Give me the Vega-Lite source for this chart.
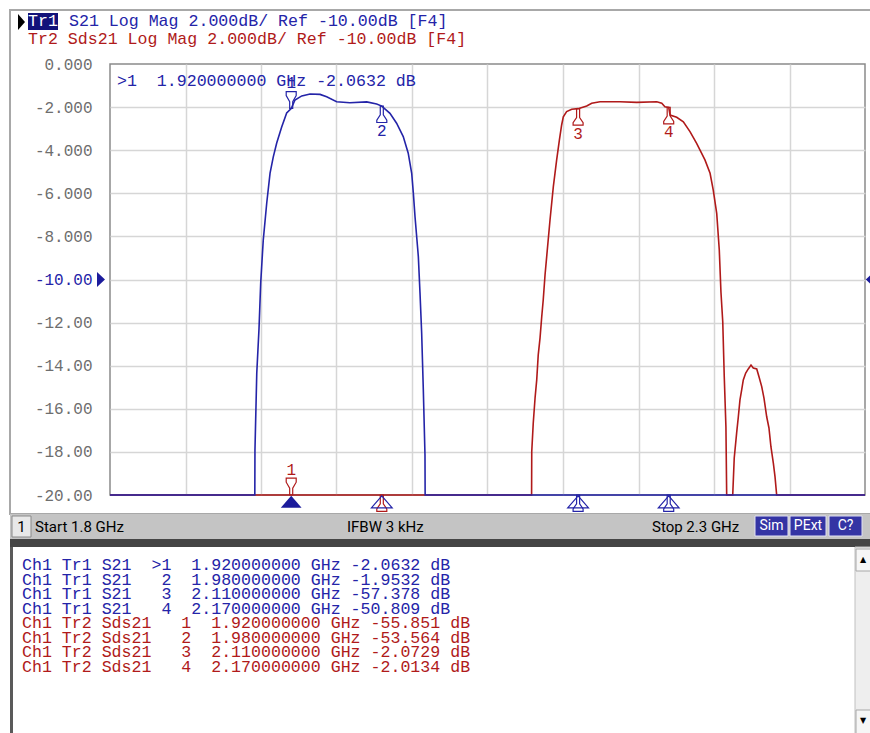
{
  "$schema": "https://vega.github.io/schema/vega-lite/v6.json",
  "width": 755,
  "height": 431,
  "autosize": {"type": "none"},
  "padding": {"left": 110, "top": 64, "right": 5, "bottom": 238},
  "background": "#ffffff",
  "config": {"view": {"stroke": "#8a8a8a", "strokeWidth": 1.5}},
  "datasets": {
    "traces": [
      {"trace": "Tr1", "f": 1.8, "db": -20}, {"trace": "Tr1", "f": 1.8959, "db": -20}, {"trace": "Tr1", "f": 1.896, "db": -17.91},
      {"trace": "Tr1", "f": 1.8972, "db": -14.34}, {"trace": "Tr1", "f": 1.8987, "db": -12.25}, {"trace": "Tr1", "f": 1.8998, "db": -10.16},
      {"trace": "Tr1", "f": 1.9011, "db": -8.63}, {"trace": "Tr1", "f": 1.9015, "db": -8.17}, {"trace": "Tr1", "f": 1.9038, "db": -6.45},
      {"trace": "Tr1", "f": 1.906, "db": -5.06}, {"trace": "Tr1", "f": 1.9081, "db": -4.32}, {"trace": "Tr1", "f": 1.9104, "db": -3.67},
      {"trace": "Tr1", "f": 1.9137, "db": -2.92}, {"trace": "Tr1", "f": 1.917, "db": -2.27}, {"trace": "Tr1", "f": 1.92, "db": -2.0632},
      {"trace": "Tr1", "f": 1.9225, "db": -1.67}, {"trace": "Tr1", "f": 1.927, "db": -1.48}, {"trace": "Tr1", "f": 1.9325, "db": -1.39},
      {"trace": "Tr1", "f": 1.9391, "db": -1.41}, {"trace": "Tr1", "f": 1.9435, "db": -1.52}, {"trace": "Tr1", "f": 1.9501, "db": -1.75},
      {"trace": "Tr1", "f": 1.9589, "db": -1.8}, {"trace": "Tr1", "f": 1.97, "db": -1.76}, {"trace": "Tr1", "f": 1.9766, "db": -1.86},
      {"trace": "Tr1", "f": 1.98, "db": -1.9532}, {"trace": "Tr1", "f": 1.9854, "db": -2.29}, {"trace": "Tr1", "f": 1.9898, "db": -2.75},
      {"trace": "Tr1", "f": 1.9942, "db": -3.37}, {"trace": "Tr1", "f": 1.9975, "db": -4.14}, {"trace": "Tr1", "f": 1.9998, "db": -5.07},
      {"trace": "Tr1", "f": 2.0009, "db": -6.0}, {"trace": "Tr1", "f": 2.002, "db": -7.09}, {"trace": "Tr1", "f": 2.0042, "db": -8.94},
      {"trace": "Tr1", "f": 2.0053, "db": -10.63}, {"trace": "Tr1", "f": 2.0064, "db": -12.48}, {"trace": "Tr1", "f": 2.0075, "db": -15.13},
      {"trace": "Tr1", "f": 2.0086, "db": -18.14}, {"trace": "Tr1", "f": 2.0087, "db": -20}, {"trace": "Tr1", "f": 2.11, "db": -57.378},
      {"trace": "Tr1", "f": 2.17, "db": -50.809}, {"trace": "Tr1", "f": 2.3, "db": -20},
      {"trace": "Tr2", "f": 1.8, "db": -20}, {"trace": "Tr2", "f": 1.92, "db": -55.851}, {"trace": "Tr2", "f": 1.98, "db": -53.564},
      {"trace": "Tr2", "f": 2.0792, "db": -20}, {"trace": "Tr2", "f": 2.0793, "db": -17.99}, {"trace": "Tr2", "f": 2.0803, "db": -16.66},
      {"trace": "Tr2", "f": 2.0815, "db": -15.5}, {"trace": "Tr2", "f": 2.0826, "db": -14.66}, {"trace": "Tr2", "f": 2.0836, "db": -13.5},
      {"trace": "Tr2", "f": 2.0848, "db": -12.71}, {"trace": "Tr2", "f": 2.0859, "db": -11.74}, {"trace": "Tr2", "f": 2.0869, "db": -10.95},
      {"trace": "Tr2", "f": 2.0881, "db": -9.79}, {"trace": "Tr2", "f": 2.0892, "db": -8.94}, {"trace": "Tr2", "f": 2.0914, "db": -7.24},
      {"trace": "Tr2", "f": 2.0936, "db": -5.69}, {"trace": "Tr2", "f": 2.0958, "db": -4.45}, {"trace": "Tr2", "f": 2.0976, "db": -3.53},
      {"trace": "Tr2", "f": 2.0991, "db": -2.83}, {"trace": "Tr2", "f": 2.1002, "db": -2.45}, {"trace": "Tr2", "f": 2.1024, "db": -2.21},
      {"trace": "Tr2", "f": 2.1058, "db": -2.1}, {"trace": "Tr2", "f": 2.11, "db": -2.0729}, {"trace": "Tr2", "f": 2.1157, "db": -1.95},
      {"trace": "Tr2", "f": 2.119, "db": -1.82}, {"trace": "Tr2", "f": 2.1245, "db": -1.75}, {"trace": "Tr2", "f": 2.1377, "db": -1.75},
      {"trace": "Tr2", "f": 2.1488, "db": -1.78}, {"trace": "Tr2", "f": 2.1621, "db": -1.75}, {"trace": "Tr2", "f": 2.1654, "db": -1.82},
      {"trace": "Tr2", "f": 2.1675, "db": -1.98}, {"trace": "Tr2", "f": 2.17, "db": -2.0134}, {"trace": "Tr2", "f": 2.1709, "db": -2.37},
      {"trace": "Tr2", "f": 2.1753, "db": -2.47}, {"trace": "Tr2", "f": 2.1797, "db": -2.68}, {"trace": "Tr2", "f": 2.1841, "db": -3.14},
      {"trace": "Tr2", "f": 2.1885, "db": -3.68}, {"trace": "Tr2", "f": 2.194, "db": -4.45}, {"trace": "Tr2", "f": 2.1974, "db": -5.07},
      {"trace": "Tr2", "f": 2.1995, "db": -5.85}, {"trace": "Tr2", "f": 2.2018, "db": -6.93}, {"trace": "Tr2", "f": 2.2035, "db": -8.63},
      {"trace": "Tr2", "f": 2.2046, "db": -10.58}, {"trace": "Tr2", "f": 2.2058, "db": -11.97}, {"trace": "Tr2", "f": 2.2068, "db": -14.52},
      {"trace": "Tr2", "f": 2.2079, "db": -16.84}, {"trace": "Tr2", "f": 2.2084, "db": -20}, {"trace": "Tr2", "f": 2.2124, "db": -20},
      {"trace": "Tr2", "f": 2.2134, "db": -18.28}, {"trace": "Tr2", "f": 2.215, "db": -17.12}, {"trace": "Tr2", "f": 2.2161, "db": -16.38},
      {"trace": "Tr2", "f": 2.2172, "db": -15.59}, {"trace": "Tr2", "f": 2.2183, "db": -15.13}, {"trace": "Tr2", "f": 2.2194, "db": -14.66},
      {"trace": "Tr2", "f": 2.221, "db": -14.34}, {"trace": "Tr2", "f": 2.2227, "db": -14.15}, {"trace": "Tr2", "f": 2.2245, "db": -13.97},
      {"trace": "Tr2", "f": 2.226, "db": -14.11}, {"trace": "Tr2", "f": 2.2283, "db": -14.15}, {"trace": "Tr2", "f": 2.2298, "db": -14.51},
      {"trace": "Tr2", "f": 2.2316, "db": -14.97}, {"trace": "Tr2", "f": 2.2331, "db": -15.5}, {"trace": "Tr2", "f": 2.2349, "db": -16.37},
      {"trace": "Tr2", "f": 2.2364, "db": -16.89}, {"trace": "Tr2", "f": 2.2377, "db": -17.76}, {"trace": "Tr2", "f": 2.2393, "db": -18.52},
      {"trace": "Tr2", "f": 2.2404, "db": -19.15}, {"trace": "Tr2", "f": 2.2415, "db": -20}, {"trace": "Tr2", "f": 2.3, "db": -20}
    ],
    "markers": [
      {"row": 1, "trace": "Tr1", "marker": "1", "f": 1.92, "db": -2.0632, "active": true, "line": "Ch1\u00a0Tr1\u00a0S21\u00a0\u00a0>1\u00a0\u00a01.920000000\u00a0GHz\u00a0-2.0632\u00a0dB", "readout": ">1\u00a0\u00a01.920000000\u00a0GHz\u00a0-2.0632\u00a0dB"},
      {"row": 2, "trace": "Tr1", "marker": "2", "f": 1.98, "db": -1.9532, "active": false, "line": "Ch1\u00a0Tr1\u00a0S21\u00a0\u00a0\u00a02\u00a0\u00a01.980000000\u00a0GHz\u00a0-1.9532\u00a0dB", "readout": ""},
      {"row": 3, "trace": "Tr1", "marker": "3", "f": 2.11, "db": -57.378, "active": false, "line": "Ch1\u00a0Tr1\u00a0S21\u00a0\u00a0\u00a03\u00a0\u00a02.110000000\u00a0GHz\u00a0-57.378\u00a0dB", "readout": ""},
      {"row": 4, "trace": "Tr1", "marker": "4", "f": 2.17, "db": -50.809, "active": false, "line": "Ch1\u00a0Tr1\u00a0S21\u00a0\u00a0\u00a04\u00a0\u00a02.170000000\u00a0GHz\u00a0-50.809\u00a0dB", "readout": ""},
      {"row": 5, "trace": "Tr2", "marker": "1", "f": 1.92, "db": -55.851, "active": true, "line": "Ch1\u00a0Tr2\u00a0Sds21\u00a0\u00a0\u00a01\u00a0\u00a01.920000000\u00a0GHz\u00a0-55.851\u00a0dB", "readout": ""},
      {"row": 6, "trace": "Tr2", "marker": "2", "f": 1.98, "db": -53.564, "active": false, "line": "Ch1\u00a0Tr2\u00a0Sds21\u00a0\u00a0\u00a02\u00a0\u00a01.980000000\u00a0GHz\u00a0-53.564\u00a0dB", "readout": ""},
      {"row": 7, "trace": "Tr2", "marker": "3", "f": 2.11, "db": -2.0729, "active": false, "line": "Ch1\u00a0Tr2\u00a0Sds21\u00a0\u00a0\u00a03\u00a0\u00a02.110000000\u00a0GHz\u00a0-2.0729\u00a0dB", "readout": ""},
      {"row": 8, "trace": "Tr2", "marker": "4", "f": 2.17, "db": -2.0134, "active": false, "line": "Ch1\u00a0Tr2\u00a0Sds21\u00a0\u00a0\u00a04\u00a0\u00a02.170000000\u00a0GHz\u00a0-2.0134\u00a0dB", "readout": ""}
    ],
    "header": [
      {"trace": "Tr1", "name": "Tr1", "desc": "S21\u00a0Log\u00a0Mag\u00a02.000dB/\u00a0Ref\u00a0-10.00dB\u00a0[F4]"},
      {"trace": "Tr2", "name": "Tr2", "desc": "Tr2\u00a0Sds21\u00a0Log\u00a0Mag\u00a02.000dB/\u00a0Ref\u00a0-10.00dB\u00a0[F4]"}
    ],
    "reference": [{"trace": "Tr1", "ref": -10}],
    "status": [
      {"key": "channel", "text": "1"},
      {"key": "start", "text": "Start 1.8 GHz"},
      {"key": "ifbw", "text": "IFBW 3 kHz"},
      {"key": "stop", "text": "Stop 2.3 GHz"},
      {"key": "sim", "text": "Sim"},
      {"key": "pext", "text": "PExt"},
      {"key": "cal", "text": "C?"}
    ]
  },
  "layer": [
    {
      "layer": [
        {
          "data": {"name": "traces"},
          "transform": [{"filter": "datum.trace === 'Tr2'"}],
          "mark": {"type": "line", "color": "#b01a1a", "strokeWidth": 1.6},
          "encoding": {
            "x": {"field": "f", "type": "quantitative",
              "scale": {"domain": [1.8, 2.3], "nice": false, "zero": false},
              "axis": {"values": [1.85, 1.9, 1.95, 2.0, 2.05, 2.1, 2.15, 2.2, 2.25], "labels": false, "ticks": false, "domain": false, "title": null, "grid": true, "gridColor": "#d6d6d6", "gridWidth": 1.5}},
            "y": {"field": "db", "type": "quantitative",
              "scale": {"domain": [-20, 0], "nice": false, "zero": false, "clamp": true},
              "axis": {"values": [0, -2, -4, -6, -8, -10, -12, -14, -16, -18, -20], "ticks": false, "domain": false, "title": null, "grid": true, "gridWidth": 1.5,
                "gridColor": {"condition": {"test": "datum.value === 0 || datum.value === -20", "value": "rgba(0,0,0,0)"}, "value": "#d6d6d6"},
                "labelPadding": 18, "labelFont": "Liberation Mono", "labelFontSize": 16,
                "labelColor": {"condition": {"test": "datum.value === -10", "value": "#2424a8"}, "value": "#6e6e6e"},
                "labelFlush": false, "labelOverlap": false, "labelBound": false,
                "labelExpr": "replace(abs(datum.value) >= 10 ? format(datum.value, '.2f') : format(datum.value, '.3f'), '\u2212', '-')"}}
          }
        },
        {
          "data": {"name": "traces"},
          "transform": [{"filter": "datum.trace === 'Tr1'"}],
          "mark": {"type": "line", "color": "#2424a8", "strokeWidth": 1.6},
          "encoding": {"x": {"field": "f", "type": "quantitative"}, "y": {"field": "db", "type": "quantitative"}}
        },
        {
          "data": {"name": "markers"},
          "transform": [{"filter": "datum.active"}],
          "mark": {"type": "point", "shape": "M -0.19 0 L 0.19 0 L 0.19 -0.85 L 0.625 -1.6 L 0.625 -2.1 L -0.625 -2.1 L -0.625 -1.6 L -0.19 -0.85 Z", "size": 256, "filled": false, "strokeWidth": 1.2, "opacity": 1},
          "encoding": {
            "x": {"field": "f", "type": "quantitative"}, "y": {"field": "db", "type": "quantitative"},
            "color": {"field": "trace", "type": "nominal", "scale": {"domain": ["Tr1", "Tr2"], "range": ["#2424a8", "#b01a1a"]}, "legend": null}
          }
        },
        {
          "data": {"name": "markers"},
          "transform": [{"filter": "!datum.active"}],
          "mark": {"type": "point", "shape": "M -0.19 0 L 0.19 0 L 0.19 1.1 L 0.625 1.75 L 0.625 2.05 L -0.625 2.05 L -0.625 1.75 L -0.19 1.1 Z", "size": 256, "filled": false, "strokeWidth": 1.2, "opacity": 1},
          "encoding": {
            "x": {"field": "f", "type": "quantitative"}, "y": {"field": "db", "type": "quantitative"},
            "color": {"field": "trace", "type": "nominal", "scale": {"domain": ["Tr1", "Tr2"], "range": ["#2424a8", "#b01a1a"]}, "legend": null}
          }
        },
        {
          "data": {"name": "markers"},
          "transform": [{"filter": "datum.active"}],
          "mark": {"type": "text", "dy": -25, "baseline": "middle", "align": "center", "font": "Liberation Mono", "fontSize": 16},
          "encoding": {
            "x": {"field": "f", "type": "quantitative"}, "y": {"field": "db", "type": "quantitative"}, "text": {"field": "marker"},
            "color": {"field": "trace", "type": "nominal", "scale": {"domain": ["Tr1", "Tr2"], "range": ["#2424a8", "#b01a1a"]}, "legend": null}
          }
        },
        {
          "data": {"name": "markers"},
          "transform": [{"filter": "!datum.active && datum.db > -20"}],
          "mark": {"type": "text", "dy": 25, "baseline": "middle", "align": "center", "font": "Liberation Mono", "fontSize": 16},
          "encoding": {
            "x": {"field": "f", "type": "quantitative"}, "y": {"field": "db", "type": "quantitative"}, "text": {"field": "marker"},
            "color": {"field": "trace", "type": "nominal", "scale": {"domain": ["Tr1", "Tr2"], "range": ["#2424a8", "#b01a1a"]}, "legend": null}
          }
        },
        {
          "data": {"name": "markers"},
          "transform": [{"filter": "datum.trace === 'Tr1' && datum.active"}],
          "mark": {"type": "point", "shape": "M 0 0.1 L 1.3 1.6 L -1.3 1.6 Z", "size": 256, "filled": true, "color": "#1c1c9c", "opacity": 1},
          "encoding": {"x": {"field": "f", "type": "quantitative"}, "y": {"datum": -20}}
        },
        {
          "data": {"name": "markers"},
          "transform": [{"filter": "datum.trace === 'Tr1' && !datum.active"}],
          "mark": {"type": "point", "shape": "M 0 0.1 L 1.3 1.6 L -1.3 1.6 Z", "size": 256, "filled": false, "color": "#2424a8", "strokeWidth": 1.2, "opacity": 1},
          "encoding": {"x": {"field": "f", "type": "quantitative"}, "y": {"datum": -20}}
        },
        {
          "data": {"name": "markers"},
          "transform": [{"filter": "datum.trace === 'Tr1' && datum.active"}],
          "mark": {"type": "text", "align": "left", "baseline": "middle", "dx": 7, "dy": 17, "font": "Liberation Mono", "fontSize": 16.6, "color": "#2424a8"},
          "encoding": {"x": {"datum": 1.8}, "y": {"datum": 0}, "text": {"field": "readout"}}
        },
        {
          "data": {"name": "reference"},
          "mark": {"type": "point", "shape": "M -1.625 -0.95 L -0.625 0 L -1.625 0.95 Z", "size": 256, "filled": true, "color": "#1c1c9c", "opacity": 1},
          "encoding": {"x": {"datum": 1.8}, "y": {"field": "ref", "type": "quantitative"}}
        },
        {
          "data": {"name": "reference"},
          "mark": {"type": "point", "shape": "M 0.1 0 L 1.1 -0.95 L 1.1 0.95 Z", "size": 256, "filled": true, "color": "#1c1c9c", "opacity": 1},
          "encoding": {"x": {"datum": 2.3}, "y": {"field": "ref", "type": "quantitative"}}
        },
        {
          "data": {"values": [{}]},
          "mark": {"type": "rect", "fillOpacity": 0, "stroke": "#a8a8a8", "strokeWidth": 2, "xOffset": -100, "x2Offset": 15, "yOffset": -54, "y2Offset": 19},
          "encoding": {"x": {"datum": 1.8}, "x2": {"datum": 2.3}, "y": {"datum": 0}, "y2": {"datum": -20}}
        },
        {
          "data": {"name": "header"},
          "transform": [{"filter": "datum.trace === 'Tr1'"}],
          "mark": {"type": "point", "shape": "M -11.5 -6.25 L -10.625 -5.25 L -11.5 -4.25 Z", "size": 256, "filled": true, "color": "#000000", "opacity": 1},
          "encoding": {"x": {"datum": 1.8}, "y": {"datum": 0}}
        },
        {
          "data": {"name": "header"},
          "transform": [{"filter": "datum.trace === 'Tr1'"}],
          "mark": {"type": "rect", "color": "#12127a", "xOffset": -82, "x2Offset": -52, "yOffset": -51, "y2Offset": -34},
          "encoding": {"x": {"datum": 1.8}, "x2": {"datum": 1.8}, "y": {"datum": 0}, "y2": {"datum": 0}}
        },
        {
          "data": {"name": "header"},
          "transform": [{"filter": "datum.trace === 'Tr1'"}],
          "mark": {"type": "text", "align": "left", "baseline": "middle", "dx": -82, "dy": -43, "font": "Liberation Mono", "fontSize": 16.6, "color": "#ffffff"},
          "encoding": {"x": {"datum": 1.8}, "y": {"datum": 0}, "text": {"field": "name"}}
        },
        {
          "data": {"name": "header"},
          "transform": [{"filter": "datum.trace === 'Tr1'"}],
          "mark": {"type": "text", "align": "left", "baseline": "middle", "dx": -41, "dy": -43, "font": "Liberation Mono", "fontSize": 16.6, "color": "#2424a8"},
          "encoding": {"x": {"datum": 1.8}, "y": {"datum": 0}, "text": {"field": "desc"}}
        },
        {
          "data": {"name": "header"},
          "transform": [{"filter": "datum.trace === 'Tr2'"}],
          "mark": {"type": "text", "align": "left", "baseline": "middle", "dx": -82, "dy": -25.5, "font": "Liberation Mono", "fontSize": 16.6, "color": "#b01a1a"},
          "encoding": {"x": {"datum": 1.8}, "y": {"datum": 0}, "text": {"field": "desc"}}
        },
        {
          "data": {"values": [{}]},
          "mark": {"type": "rect", "color": "#c4c4c4", "xOffset": -100, "x2Offset": 15, "yOffset": 19, "y2Offset": 44},
          "encoding": {"x": {"datum": 1.8}, "x2": {"datum": 2.3}, "y": {"datum": -20}, "y2": {"datum": -20}}
        },
        {
          "data": {"name": "status"},
          "transform": [{"filter": "datum.key === 'channel'"}],
          "mark": {"type": "rect", "fill": "#e8e8e8", "stroke": "#8a8a8a", "strokeWidth": 1, "xOffset": -98, "x2Offset": -79, "yOffset": 21, "y2Offset": 42},
          "encoding": {"x": {"datum": 1.8}, "x2": {"datum": 1.8}, "y": {"datum": -20}, "y2": {"datum": -20}}
        },
        {
          "data": {"name": "status"},
          "transform": [{"filter": "datum.key === 'channel'"}],
          "mark": {"type": "text", "align": "center", "baseline": "middle", "dx": -88.5, "dy": 32, "font": "Roboto", "fontSize": 15, "color": "#000000"},
          "encoding": {"x": {"datum": 1.8}, "y": {"datum": -20}, "text": {"field": "text"}}
        },
        {
          "data": {"name": "status"},
          "transform": [{"filter": "datum.key === 'start'"}],
          "mark": {"type": "text", "align": "left", "baseline": "middle", "dx": -75, "dy": 32, "font": "Roboto", "fontSize": 15, "color": "#000000"},
          "encoding": {"x": {"datum": 1.8}, "y": {"datum": -20}, "text": {"field": "text"}}
        },
        {
          "data": {"name": "status"},
          "transform": [{"filter": "datum.key === 'ifbw'"}],
          "mark": {"type": "text", "align": "left", "baseline": "middle", "dx": 237, "dy": 32, "font": "Roboto", "fontSize": 15, "color": "#000000"},
          "encoding": {"x": {"datum": 1.8}, "y": {"datum": -20}, "text": {"field": "text"}}
        },
        {
          "data": {"name": "status"},
          "transform": [{"filter": "datum.key === 'stop'"}],
          "mark": {"type": "text", "align": "left", "baseline": "middle", "dx": -213, "dy": 32, "font": "Roboto", "fontSize": 15, "color": "#000000"},
          "encoding": {"x": {"datum": 2.3}, "y": {"datum": -20}, "text": {"field": "text"}}
        },
        {
          "data": {"name": "status"},
          "transform": [{"filter": "datum.key === 'sim'"}],
          "mark": {"type": "rect", "fill": "#3434a4", "stroke": "#e0e0f4", "strokeWidth": 1, "xOffset": -110, "x2Offset": -77, "yOffset": 21, "y2Offset": 41},
          "encoding": {"x": {"datum": 2.3}, "x2": {"datum": 2.3}, "y": {"datum": -20}, "y2": {"datum": -20}}
        },
        {
          "data": {"name": "status"},
          "transform": [{"filter": "datum.key === 'pext'"}],
          "mark": {"type": "rect", "fill": "#3434a4", "stroke": "#e0e0f4", "strokeWidth": 1, "xOffset": -75, "x2Offset": -39, "yOffset": 21, "y2Offset": 41},
          "encoding": {"x": {"datum": 2.3}, "x2": {"datum": 2.3}, "y": {"datum": -20}, "y2": {"datum": -20}}
        },
        {
          "data": {"name": "status"},
          "transform": [{"filter": "datum.key === 'cal'"}],
          "mark": {"type": "rect", "fill": "#3434a4", "stroke": "#e0e0f4", "strokeWidth": 1, "xOffset": -36, "x2Offset": -3, "yOffset": 21, "y2Offset": 41},
          "encoding": {"x": {"datum": 2.3}, "x2": {"datum": 2.3}, "y": {"datum": -20}, "y2": {"datum": -20}}
        },
        {
          "data": {"name": "status"},
          "transform": [{"filter": "datum.key === 'sim'"}],
          "mark": {"type": "text", "align": "center", "baseline": "middle", "dx": -93.5, "dy": 31, "font": "Roboto", "fontSize": 14, "color": "#ffffff"},
          "encoding": {"x": {"datum": 2.3}, "y": {"datum": -20}, "text": {"field": "text"}}
        },
        {
          "data": {"name": "status"},
          "transform": [{"filter": "datum.key === 'pext'"}],
          "mark": {"type": "text", "align": "center", "baseline": "middle", "dx": -57, "dy": 31, "font": "Roboto", "fontSize": 14, "color": "#ffffff"},
          "encoding": {"x": {"datum": 2.3}, "y": {"datum": -20}, "text": {"field": "text"}}
        },
        {
          "data": {"name": "status"},
          "transform": [{"filter": "datum.key === 'cal'"}],
          "mark": {"type": "text", "align": "center", "baseline": "middle", "dx": -19.5, "dy": 31, "font": "Roboto", "fontSize": 14, "color": "#ffffff"},
          "encoding": {"x": {"datum": 2.3}, "y": {"datum": -20}, "text": {"field": "text"}}
        },
        {
          "data": {"values": [{}]},
          "mark": {"type": "rect", "color": "#454545", "xOffset": -100, "x2Offset": 15, "yOffset": 44, "y2Offset": 52},
          "encoding": {"x": {"datum": 1.8}, "x2": {"datum": 2.3}, "y": {"datum": -20}, "y2": {"datum": -20}}
        },
        {
          "data": {"values": [{}]},
          "mark": {"type": "rect", "color": "#5a5a5a", "xOffset": -100, "x2Offset": -97, "yOffset": 52, "y2Offset": 250},
          "encoding": {"x": {"datum": 1.8}, "x2": {"datum": 1.8}, "y": {"datum": -20}, "y2": {"datum": -20}}
        },
        {
          "data": {"values": [{}]},
          "mark": {"type": "rect", "fill": "#eeeeee", "stroke": "#c0c0c0", "strokeWidth": 1, "xOffset": -10, "x2Offset": 8, "yOffset": 52, "y2Offset": 250},
          "encoding": {"x": {"datum": 2.3}, "x2": {"datum": 2.3}, "y": {"datum": -20}, "y2": {"datum": -20}}
        },
        {
          "data": {"values": [{}]},
          "mark": {"type": "rect", "fill": "#f6f6f6", "stroke": "#a8a8a8", "strokeWidth": 1, "xOffset": -9, "x2Offset": 6, "yOffset": 54, "y2Offset": 76},
          "encoding": {"x": {"datum": 2.3}, "x2": {"datum": 2.3}, "y": {"datum": -20}, "y2": {"datum": -20}}
        },
        {
          "data": {"values": [{}]},
          "mark": {"type": "rect", "fill": "#f6f6f6", "stroke": "#a8a8a8", "strokeWidth": 1, "xOffset": -9, "x2Offset": 6, "yOffset": 215, "y2Offset": 240},
          "encoding": {"x": {"datum": 2.3}, "x2": {"datum": 2.3}, "y": {"datum": -20}, "y2": {"datum": -20}}
        },
        {
          "data": {"values": [{"arrow": "\u25b2"}]},
          "mark": {"type": "text", "align": "center", "baseline": "middle", "dx": -2, "dy": 65, "font": "DejaVu Sans", "fontSize": 8, "color": "#000000"},
          "encoding": {"x": {"datum": 2.3}, "y": {"datum": -20}, "text": {"field": "arrow"}}
        },
        {
          "data": {"values": [{"arrow": "\u25bc"}]},
          "mark": {"type": "text", "align": "center", "baseline": "middle", "dx": -2, "dy": 226, "font": "DejaVu Sans", "fontSize": 8, "color": "#000000"},
          "encoding": {"x": {"datum": 2.3}, "y": {"datum": -20}, "text": {"field": "arrow"}}
        }
      ]
    },
    {
      "data": {"name": "markers"},
      "mark": {"type": "text", "align": "left", "baseline": "middle", "dx": -88, "font": "Liberation Mono", "fontSize": 16.6},
      "encoding": {
        "x": {"datum": 1.8},
        "y": {"field": "row", "type": "quantitative", "scale": {"domain": [1, 8], "range": [501, 603]}, "axis": null},
        "text": {"field": "line"},
        "color": {"field": "trace", "type": "nominal", "scale": {"domain": ["Tr1", "Tr2"], "range": ["#2424a8", "#b01a1a"]}, "legend": null}
      }
    }
  ],
  "resolve": {"scale": {"y": "independent"}}
}
